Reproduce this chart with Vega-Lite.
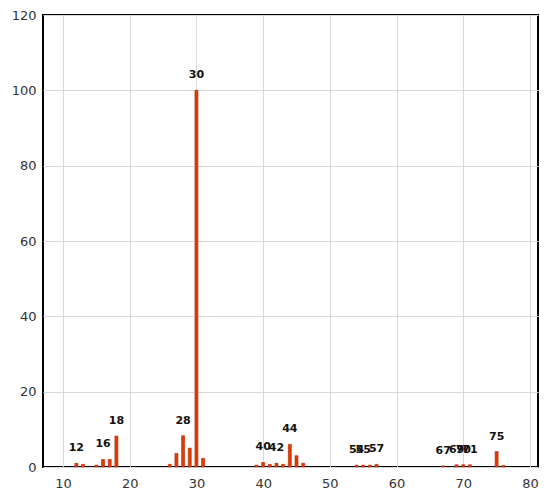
{
  "$schema": "https://vega.github.io/schema/vega-lite/v6.json",
  "autosize": "none",
  "width": 495,
  "height": 452,
  "padding": {"left": 43, "top": 15, "right": 9, "bottom": 33},
  "background": "white",
  "config": {
    "view": {"stroke": "#000000", "strokeWidth": 2},
    "axis": {"labelFont": "DejaVu Sans", "labelFontSize": 13, "labelColor": "#333333", "gridColor": "#d8d8d8", "gridWidth": 1, "domain": false, "ticks": false, "title": null}
  },
  "data": {
    "values": [
      {"mz": 12, "intensity": 1.0, "label": "12"},
      {"mz": 13, "intensity": 0.7, "label": ""},
      {"mz": 15, "intensity": 0.5, "label": ""},
      {"mz": 16, "intensity": 2.0, "label": "16"},
      {"mz": 17, "intensity": 2.0, "label": ""},
      {"mz": 18, "intensity": 8.2, "label": "18"},
      {"mz": 26, "intensity": 0.7, "label": ""},
      {"mz": 27, "intensity": 3.6, "label": ""},
      {"mz": 28, "intensity": 8.3, "label": "28"},
      {"mz": 29, "intensity": 5.0, "label": ""},
      {"mz": 30, "intensity": 100, "label": "30"},
      {"mz": 31, "intensity": 2.3, "label": ""},
      {"mz": 39, "intensity": 0.5, "label": ""},
      {"mz": 40, "intensity": 1.2, "label": "40"},
      {"mz": 41, "intensity": 0.7, "label": ""},
      {"mz": 42, "intensity": 1.0, "label": "42"},
      {"mz": 43, "intensity": 0.7, "label": ""},
      {"mz": 44, "intensity": 6.0, "label": "44"},
      {"mz": 45, "intensity": 3.0, "label": ""},
      {"mz": 46, "intensity": 1.0, "label": ""},
      {"mz": 54, "intensity": 0.5, "label": "54"},
      {"mz": 55, "intensity": 0.5, "label": "55"},
      {"mz": 56, "intensity": 0.5, "label": ""},
      {"mz": 57, "intensity": 0.7, "label": "57"},
      {"mz": 67, "intensity": 0.3, "label": "67"},
      {"mz": 69, "intensity": 0.6, "label": "69"},
      {"mz": 70, "intensity": 0.6, "label": "70"},
      {"mz": 71, "intensity": 0.6, "label": "71"},
      {"mz": 75, "intensity": 4.1, "label": "75"},
      {"mz": 76, "intensity": 0.4, "label": ""}
    ]
  },
  "encoding": {
    "x": {"field": "mz", "type": "quantitative", "scale": {"domain": [7, 81.2], "nice": false, "zero": false, "padding": 0},
          "axis": {"values": [10, 20, 30, 40, 50, 60, 70, 80], "labelPadding": 10, "labelFlush": false}},
    "y": {"field": "intensity", "type": "quantitative", "scale": {"domain": [0, 120], "nice": false, "padding": 0},
          "axis": {"values": [0, 20, 40, 60, 80, 100, 120], "labelPadding": 7}}
  },
  "layer": [
    {"mark": {"type": "bar", "size": 3, "color": "#e03c00", "stroke": "#b52200", "strokeWidth": 0.6}},
    {"mark": {"type": "text", "baseline": "alphabetic", "dy": -12, "font": "DejaVu Sans", "fontSize": 11, "fontWeight": "bold", "color": "#111111"},
     "encoding": {"text": {"field": "label"}}}
  ]
}
